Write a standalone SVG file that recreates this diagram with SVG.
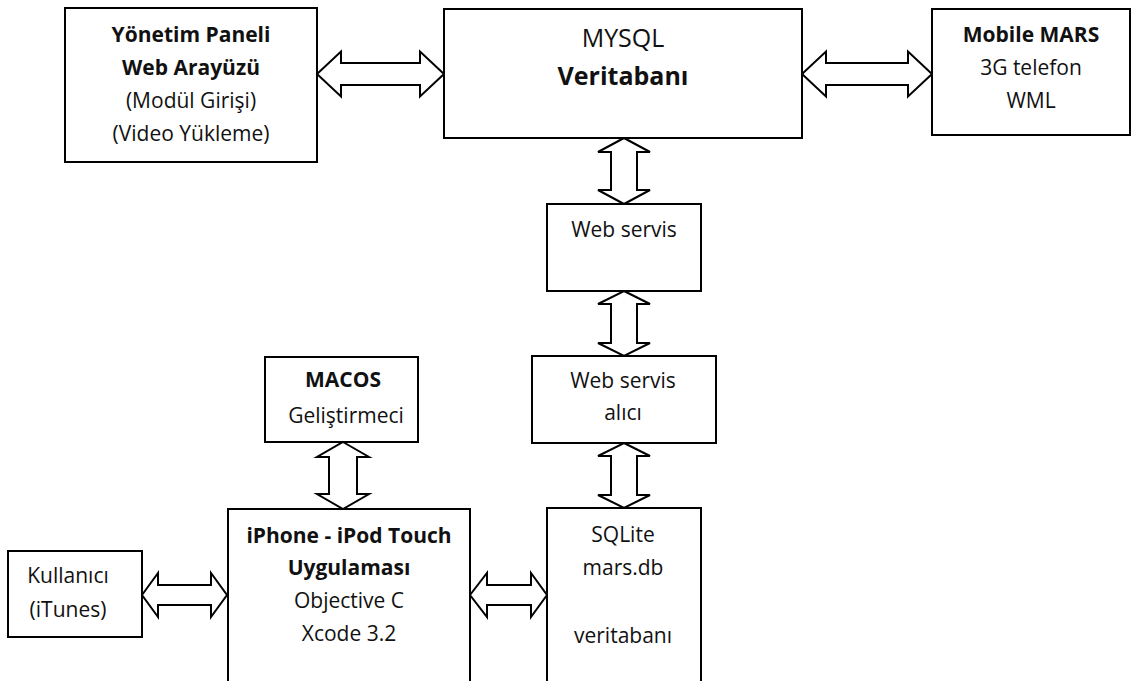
<svg xmlns="http://www.w3.org/2000/svg" width="1133" height="681" viewBox="0 0 1133 681">
<style>
.box{fill:#fff;stroke:#000;stroke-width:2}
.arr{fill:#fff;stroke:#000;stroke-width:2;stroke-linejoin:miter}
text{font-family:"Open Sans","Noto Sans","Liberation Sans",sans-serif;font-size:21px;fill:#111;text-anchor:middle}
.b{font-weight:bold}
.big{font-size:25px}
</style>
<rect width="1133" height="681" fill="#fff"/>
<g id="connectors">
<polygon class="arr" points="317,74 341,51.5 341,63 420,63 420,51.5 444,74 420,96.5 420,85 341,85 341,96.5"/>
<polygon class="arr" points="802,74 826,51.5 826,63 908,63 908,51.5 932,74 908,96.5 908,85 826,85 826,96.5"/>
<polygon class="arr" points="624,138 650,152 637,152 637,190 650,190 624,204 598,190 611,190 611,152 598,152"/>
<polygon class="arr" points="624,291 650,304 637,304 637,343 650,343 624,356 598,343 611,343 611,304 598,304"/>
<polygon class="arr" points="624,443 650,456 637,456 637,495 650,495 624,508 598,495 611,495 611,456 598,456"/>
<polygon class="arr" points="343,442 369,457 357,457 357,494 369,494 343,509 317,494 329,494 329,457 317,457"/>
<polygon class="arr" points="142,595 158,573 158,585 211,585 211,573 227,595 211,617 211,605 158,605 158,617"/>
<polygon class="arr" points="470,595 487,573 487,585 531,585 531,573 547,595 531,617 531,605 487,605 487,617"/>
</g>
<g id="yonetim">
<rect class="box" x="65" y="8" width="252" height="154"/>
<text class="b" x="191" y="42">Yönetim Paneli</text>
<text class="b" x="191" y="75">Web Arayüzü</text>
<text x="191" y="108">(Modül Girişi)</text>
<text x="191" y="141">(Video Yükleme)</text>
</g>
<g id="mysql">
<rect class="box" x="444" y="9" width="358" height="129"/>
<text class="big" x="623" y="47">MYSQL</text>
<text class="big b" x="623" y="85">Veritabanı</text>
</g>
<g id="mobile">
<rect class="box" x="932" y="9" width="198" height="126"/>
<text class="b" x="1031" y="42">Mobile MARS</text>
<text x="1031" y="75">3G telefon</text>
<text x="1031" y="108">WML</text>
</g>
<g id="webservis">
<rect class="box" x="547" y="204" width="154" height="87"/>
<text x="624" y="237">Web servis</text>
</g>
<g id="webservisalici">
<rect class="box" x="532" y="356" width="184" height="87"/>
<text x="623" y="388">Web servis</text>
<text x="623" y="420">alıcı</text>
</g>
<g id="macos">
<rect class="box" x="265" y="357" width="153" height="85"/>
<text class="b" x="343" y="387">MACOS</text>
<text x="346" y="423">Geliştirmeci</text>
</g>
<g id="iphone">
<rect class="box" x="228" y="509" width="242" height="185"/>
<text class="b" x="349" y="543">iPhone - iPod Touch</text>
<text class="b" x="349" y="575">Uygulaması</text>
<text x="349" y="608">Objective C</text>
<text x="349" y="641">Xcode 3.2</text>
</g>
<g id="sqlite">
<rect class="box" x="547" y="508" width="154" height="186"/>
<text x="623" y="542">SQLite</text>
<text x="623" y="575">mars.db</text>
<text x="623" y="643">veritabanı</text>
</g>
<g id="kullanici">
<rect class="box" x="8" y="551" width="134" height="86"/>
<text x="68" y="583">Kullanıcı</text>
<text x="68" y="617">(iTunes)</text>
</g>
</svg>
